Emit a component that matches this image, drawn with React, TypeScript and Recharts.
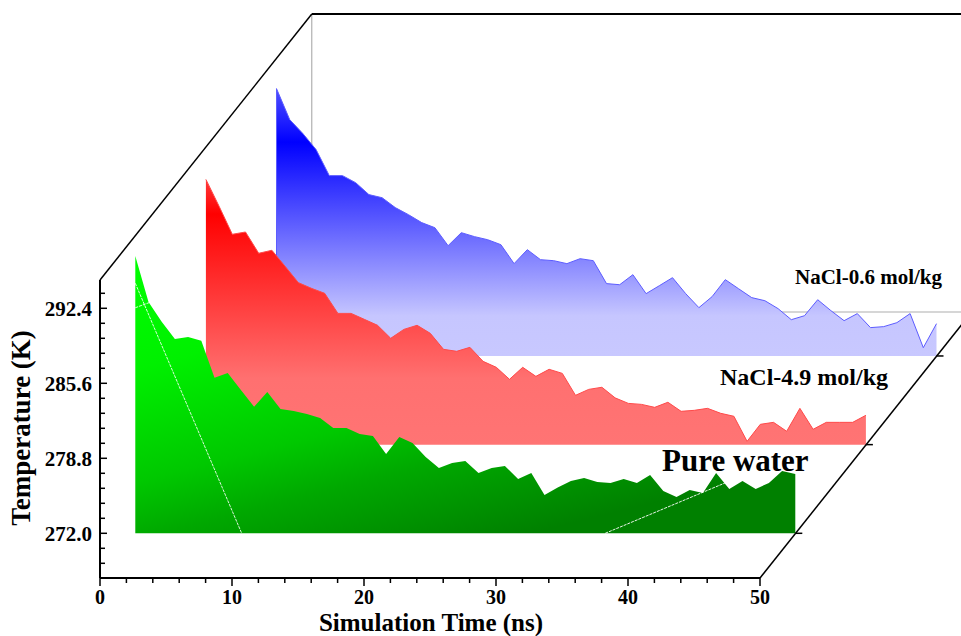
import { ComposedChart, Area, XAxis, YAxis, ReferenceLine } from "recharts";

// simulation time (ns), one sample per ns
const TIME = [
  0, 1, 2, 3, 4, 5, 6, 7, 8, 9, 10, 11, 12, 13, 14, 15, 16, 17, 18, 19, 20, 21,
  22, 23, 24, 25, 26, 27, 28, 29, 30, 31, 32, 33, 34, 35, 36, 37, 38, 39, 40,
  41, 42, 43, 44, 45, 46, 47, 48, 49, 50,
];

// temperature (K) of each system
const PURE_WATER = [
  297.14, 292.97, 291.19, 289.62, 289.8, 289.46, 286.11, 286.53, 284.99, 283.48,
  284.81, 283.27, 283.09, 282.82, 282.45, 281.55, 281.55, 281.0, 280.82, 279.19,
  280.73, 280.19, 278.92, 277.92, 278.37, 278.56, 277.47, 277.92, 278.1, 276.92,
  277.47, 275.47, 276.15, 276.74, 277.01, 276.65, 276.56, 276.92, 276.56, 277.29,
  275.84, 275.29, 275.93, 275.65, 277.47, 276.02, 276.74, 276.02, 276.56, 277.65,
  277.38,
];
const NACL_49 = [
  296.05, 293.61, 291.07, 291.28, 289.35, 289.62, 288.17, 286.69, 286.17, 285.72,
  283.9, 283.9, 283.36, 282.82, 281.64, 282.45, 282.82, 282.09, 280.64, 280.46,
  280.82, 279.55, 279.01, 277.92, 279.01, 278.19, 278.83, 278.46, 276.47, 277.01,
  277.2, 276.24, 275.74, 275.65, 275.38, 275.84, 275.02, 275.11, 275.29, 274.84,
  274.57, 272.3, 273.84, 274.02, 273.21, 275.29, 273.39, 274.02, 274.02, 274.02,
  274.66,
];
const NACL_06 = [
  296.24, 293.43, 292.16, 290.71, 288.35, 288.35, 287.71, 286.63, 286.35, 285.45,
  284.81, 284.09, 283.63, 282.0, 283.18, 282.82, 282.54, 282.09, 280.37, 281.64,
  280.73, 280.64, 280.37, 280.82, 280.64, 278.56, 278.46, 279.37, 277.65, 278.37,
  279.1, 277.65, 276.38, 277.38, 278.92, 278.1, 277.29, 277.01, 276.29, 275.29,
  275.65, 277.1, 276.11, 275.2, 275.84, 274.57, 274.66, 275.02, 275.84, 272.75,
  274.93,
];

const Y_MAJOR = [272.0, 278.8, 285.6, 292.4];
const Y_TICKS = [
  269.28, 270.64, 272.0, 273.36, 274.72, 276.08, 277.44, 278.8, 280.16, 281.52,
  282.88, 284.24, 285.6, 286.96, 288.32, 289.68, 291.04, 292.4, 293.76,
];
const X_MAJOR = [0, 10, 20, 30, 40, 50];
const X_TICKS = [
  0, 2, 4, 6, 8, 10, 12, 14, 16, 18, 20, 22, 24, 26, 28, 30, 32, 34, 36, 38, 40,
  42, 44, 46, 48, 50,
];

const SERIF = "'Liberation Serif', 'Times New Roman', serif";
const BASE = 272;

// pseudo-3D layout: plot box 100..960 x 14..578
const PX_NS = 13.2;
const PX_K = 75 / 6.8;
const X_MAX = 860 / PX_NS;
const Y_MIN = 272 - 44.7 / PX_K;
const Y_MAX = Y_MIN + 564 / PX_K;
const DEPTH_X = 211.8 / PX_NS;
const DEPTH_Y = 266 / PX_K;

const rows = TIME.map((t, i) => ({
  t,
  water: PURE_WATER[i],
  n49: NACL_49[i],
  n06: NACL_06[i],
}));

// depth slot k: 0 = front (pure water), 2 = back
const shiftX = (k: number) => (DEPTH_X * (2 * k + 1)) / 6;
const shiftY = (k: number) => (DEPTH_Y * k) / 3;
const PLANE_IDS = [2, 1, 0];

const YTick = (props: any) => {
  const { x, y, payload } = props;
  const v = payload.value;
  const major = Y_MAJOR.some((m) => Math.abs(m - v) < 1e-6);
  return (
    <g>
      <line x1={x} y1={y} x2={x + (major ? 7 : 5)} y2={y} stroke="#000" strokeWidth={1.5} />
      {major && (
        <text x={x - 8} y={y} dy="0.35em" textAnchor="end" fontSize={21} fontWeight="bold" fontFamily={SERIF} fill="#000">
          {v.toFixed(1)}
        </text>
      )}
    </g>
  );
};

const XTick = (props: any) => {
  const { x, y, payload } = props;
  const v = payload.value;
  const major = X_MAJOR.includes(v);
  return (
    <g>
      <line x1={x} y1={y} x2={x} y2={y + (major ? 8 : 5)} stroke="#000" strokeWidth={1.5} />
      {major && (
        <text x={x} y={y + 26} textAnchor="middle" fontSize={20} fontWeight="bold" fontFamily={SERIF} fill="#000">
          {v}
        </text>
      )}
    </g>
  );
};

const seg = (x1: number, y1: number, x2: number, y2: number) => [
  { x: x1, y: y1 },
  { x: x2, y: y2 },
];

export default function App() {
  return (
    <div style={{ position: "absolute", left: 0, top: 0, width: 961, height: 636, background: "#fff" }}>
      <ComposedChart width={961} height={636} data={rows} margin={{ top: 14, right: 1, bottom: 0, left: 0 }}>
        <defs>
          <linearGradient id="gBlue" x1="0" y1="0" x2="0" y2="1">
            <stop offset="0" stopColor="#5050ff" />
            <stop offset="0.2" stopColor="#0000ff" />
            <stop offset="0.85" stopColor="#c6c6ff" />
            <stop offset="1" stopColor="#c8c8ff" />
          </linearGradient>
          <linearGradient id="gRed" x1="0" y1="0" x2="0" y2="1">
            <stop offset="0" stopColor="#ff3a3a" />
            <stop offset="0.13" stopColor="#ff0000" />
            <stop offset="0.75" stopColor="#ff7070" />
            <stop offset="1" stopColor="#ff7474" />
          </linearGradient>
          <linearGradient id="gGreen" x1="0" y1="0" x2="0.6" y2="1">
            <stop offset="0" stopColor="#00ff00" />
            <stop offset="0.3" stopColor="#00f000" />
            <stop offset="0.6" stopColor="#00c800" />
            <stop offset="0.75" stopColor="#00a800" />
            <stop offset="1" stopColor="#008000" />
          </linearGradient>
        </defs>

        <XAxis
          xAxisId="main"
          type="number"
          dataKey="t"
          domain={[0, X_MAX]}
          allowDataOverflow
          ticks={X_TICKS}
          interval={0}
          axisLine={false}
          tickLine={false}
          tickSize={0}
          tickMargin={0}
          height={58}
          tick={(p: any) => <XTick {...p} />}
        />
        <YAxis
          yAxisId="main"
          type="number"
          domain={[Y_MIN, Y_MAX]}
          allowDataOverflow
          ticks={Y_TICKS}
          interval={0}
          axisLine={false}
          tickLine={false}
          tickSize={0}
          tickMargin={0}
          width={100}
          tick={(p: any) => <YTick {...p} />}
        />
        {PLANE_IDS.map((k) => (
          <XAxis
            key={`x${k}`}
            xAxisId={`x${k}`}
            type="number"
            dataKey="t"
            hide
            allowDataOverflow
            domain={[-shiftX(k), X_MAX - shiftX(k)]}
          />
        ))}
        {PLANE_IDS.map((k) => (
          <YAxis
            key={`y${k}`}
            yAxisId={`y${k}`}
            type="number"
            hide
            allowDataOverflow
            domain={[Y_MIN - shiftY(k), Y_MAX - shiftY(k)]}
          />
        ))}

        {/* back walls (hidden behind the planes) */}
        <ReferenceLine
          xAxisId="main"
          yAxisId="main"
          ifOverflow="visible"
          zIndex={-50}
          segment={seg(DEPTH_X, Y_MIN + DEPTH_Y, DEPTH_X, Y_MAX)}
          stroke="#a0a0a0"
          strokeWidth={1}
        />
        <ReferenceLine
          xAxisId="main"
          yAxisId="main"
          ifOverflow="visible"
          zIndex={-50}
          segment={seg(DEPTH_X, Y_MIN + DEPTH_Y, 50 + DEPTH_X, Y_MIN + DEPTH_Y)}
          stroke="#c8c8c8"
          strokeWidth={1.5}
        />

        {/* NaCl-0.6 plane (back) */}
        <Area
          xAxisId="x2"
          yAxisId="y2"
          type="linear"
          dataKey="n06"
          baseValue={BASE}
          fill="url(#gBlue)"
          fillOpacity={1}
          stroke="#5c5cff"
          strokeWidth={1}
          zIndex={100}
          isAnimationActive={false}
          dot={false}
          activeDot={false}
        />
        <ReferenceLine
          xAxisId="x2"
          yAxisId="y2"
          ifOverflow="visible"
          zIndex={101}
          segment={seg(0, BASE, 0, NACL_06[0])}
          stroke="#5c5cff"
          strokeWidth={1}
        />

        {/* NaCl-4.9 plane (middle) */}
        <Area
          xAxisId="x1"
          yAxisId="y1"
          type="linear"
          dataKey="n49"
          baseValue={BASE}
          fill="url(#gRed)"
          fillOpacity={1}
          stroke="#ff4a4a"
          strokeWidth={1}
          zIndex={102}
          isAnimationActive={false}
          dot={false}
          activeDot={false}
        />

        {/* pure water plane (front) */}
        <Area
          xAxisId="x0"
          yAxisId="y0"
          type="linear"
          dataKey="water"
          baseValue={BASE}
          fill="url(#gGreen)"
          fillOpacity={1}
          stroke="none"
          zIndex={103}
          isAnimationActive={false}
          dot={false}
          activeDot={false}
        />

        {/* white guide artefacts on the front plane */}
        <ReferenceLine xAxisId="x0" yAxisId="y0" ifOverflow="visible" zIndex={600} segment={seg(0, 294.67, 8.06, BASE)} stroke="#ffffff" strokeWidth={1} strokeDasharray="3 1" strokeOpacity={0.85} />
        <ReferenceLine xAxisId="x0" yAxisId="y0" ifOverflow="visible" zIndex={600} segment={seg(0, 292.45, 1.24, 293.0)} stroke="#ffffff" strokeWidth={1} strokeDasharray="3 1" strokeOpacity={0.85} />
        <ReferenceLine xAxisId="x0" yAxisId="y0" ifOverflow="visible" zIndex={600} segment={seg(35.6, BASE, 44.67, 276.56)} stroke="#ffffff" strokeWidth={1} strokeDasharray="3 1" strokeOpacity={0.9} />

        {/* frame */}
        <ReferenceLine xAxisId="main" yAxisId="main" ifOverflow="visible" zIndex={600} segment={seg(0, Y_MIN, 0, Y_MAX - DEPTH_Y)} stroke="#000" strokeWidth={2} />
        <ReferenceLine xAxisId="main" yAxisId="main" ifOverflow="visible" zIndex={600} segment={seg(0, Y_MIN, 50, Y_MIN)} stroke="#000" strokeWidth={2} />
        <ReferenceLine xAxisId="main" yAxisId="main" ifOverflow="visible" zIndex={600} segment={seg(0, Y_MAX - DEPTH_Y, DEPTH_X, Y_MAX)} stroke="#000" strokeWidth={1.5} />
        <ReferenceLine xAxisId="main" yAxisId="main" ifOverflow="visible" zIndex={600} segment={seg(DEPTH_X, Y_MAX, 50 + DEPTH_X, Y_MAX)} stroke="#000" strokeWidth={2} />
        <ReferenceLine xAxisId="main" yAxisId="main" ifOverflow="visible" zIndex={600} segment={seg(50, Y_MIN, 50 + DEPTH_X, Y_MIN + DEPTH_Y)} stroke="#000" strokeWidth={1.5} />

        {/* depth ticks at the end of each plane */}
        {PLANE_IDS.map((k) => (
          <ReferenceLine
            key={`zt${k}`}
            xAxisId={`x${k}`}
            yAxisId={`y${k}`}
            ifOverflow="visible"
            zIndex={600}
            segment={seg(50, BASE, 50 + 7 / PX_NS, BASE)}
            stroke="#000"
            strokeWidth={1.5}
          />
        ))}
      </ComposedChart>

      <svg width={961} height={636} style={{ position: "absolute", left: 0, top: 0, pointerEvents: "none" }}>
        <g fontFamily={SERIF} fontWeight="bold" fill="#000">
          <text x={795} y={284} fontSize={21}>NaCl-0.6 mol/kg</text>
          <text x={720} y={385} fontSize={24}>NaCl-4.9 mol/kg</text>
          <text x={662} y={471} fontSize={31}>Pure water</text>
          <text x={431} y={630.5} fontSize={25} textAnchor="middle">Simulation Time (ns)</text>
          <text x={30} y={428} fontSize={27} textAnchor="middle" transform="rotate(-90 30 428)">
            Temperature (K)
          </text>
        </g>
      </svg>
    </div>
  );
}
